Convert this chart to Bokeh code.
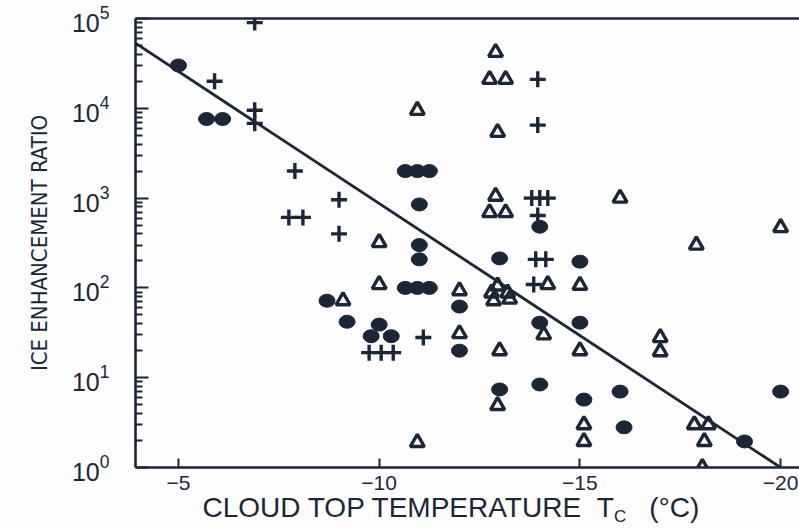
from bokeh.plotting import figure
from bokeh.models import Range1d, LinearAxis, FixedTicker
from bokeh.embed import file_html
from bokeh.resources import INLINE

# Ice enhancement ratio versus cloud top temperature (deg C)
# Filled circles
circle_T = [-5.0, -5.7, -6.1, -8.7, -9.2, -9.8, -10.3, -10.0,
            -10.65, -10.95, -11.25, -11.0, -11.0, -11.0,
            -10.65, -10.95, -11.25, -12.0, -12.0, -13.0, -13.0,
            -14.0, -14.0, -14.0, -15.0, -15.0, -15.1, -16.0, -16.1,
            -19.1, -20.0]
circle_R = [3.0e4, 7.6e3, 7.6e3, 72, 42, 29, 29, 39,
            2000, 2000, 2000, 850, 300, 208,
            100, 100, 100, 62, 20, 213, 7.4,
            480, 41, 8.4, 196, 41, 5.7, 7.0, 2.8,
            1.95, 7.0]

# Open triangles
tri_T = [-9.1, -10.0, -10.0, -10.95, -10.95, -12.0, -12.0,
         -12.9, -12.75, -13.15, -12.95, -12.9, -12.75, -13.15,
         -12.95, -12.8, -13.2, -12.85, -13.25, -13.0, -12.95,
         -14.2, -14.1, -15.0, -15.0, -15.1, -15.1, -16.0,
         -17.0, -17.0, -17.9, -17.85, -18.2, -18.1, -18.05, -20.0]
tri_R = [72, 320, 109, 9.5e3, 1.9, 93, 31,
         4.2e4, 2.1e4, 2.1e4, 5.4e3, 1050, 690, 690,
         105, 88, 88, 72, 75, 20, 4.9,
         109, 30, 107, 20, 3.0, 1.95, 1000,
         28, 19.5, 300, 3.0, 3.0, 1.95, 1.0, 470]

# Crosses
plus_T = [-6.9, -5.9, -6.9, -6.9, -7.9, -9.0, -7.75, -8.1, -9.0,
          -13.95, -13.95, -13.8, -14.0, -14.2, -13.95, -13.9, -14.15,
          -13.85, -11.1, -9.75, -10.05, -10.35]
plus_R = [9.0e4, 2.0e4, 9.5e3, 6.8e3, 2000, 960, 610, 610, 400,
          2.1e4, 6.5e3, 1000, 1000, 1000, 640, 208, 208,
          109, 28, 19, 19, 19]

# Regression line end points
fit_T = [-3.93, -20.0]
fit_R = [5.3e4, 1.0]

x_ticks = [-5, -10, -15, -20]
y_ticks = [1, 10, 100, 1000, 1e4, 1e5]
y_minor = [m * 10 ** e for e in range(5) for m in range(2, 10)]

INK = "#1d2636"
BG = "#fdfdfd"
FONT = "Liberation Sans, Arial, sans-serif"
NARROW = "Liberation Sans Narrow, DejaVu Sans Condensed, Liberation Sans, sans-serif"

p = figure(width=799, height=528, y_axis_type="log",
           x_range=Range1d(-3.93, -20.47), y_range=Range1d(1, 1e5),
           output_backend="svg", toolbar_location=None,
           min_border_left=135, min_border_right=0,
           min_border_top=18, min_border_bottom=61,
           background_fill_color=BG, border_fill_color=BG,
           outline_line_color=None)
p.grid.visible = False

p.xaxis.ticker = FixedTicker(ticks=x_ticks)
p.yaxis.ticker = FixedTicker(ticks=y_ticks, minor_ticks=y_minor)

for ax in (p.xaxis[0], p.yaxis[0]):
    ax.axis_line_color = INK
    ax.axis_line_width = 2.6
    ax.major_tick_line_color = INK
    ax.major_tick_line_width = 2
    ax.major_tick_out = 0
    ax.minor_tick_out = 0
    ax.major_label_text_color = INK
    ax.major_label_text_font = FONT

p.xaxis.major_tick_in = 9
p.xaxis.minor_tick_line_color = None
p.xaxis.major_label_text_font_size = "21px"
p.xaxis.major_label_standoff = 8

p.yaxis.major_tick_in = 13
p.yaxis.minor_tick_in = 7
p.yaxis.minor_tick_line_color = INK
p.yaxis.minor_tick_line_width = 2
p.yaxis.major_label_text_font_size = "25px"
p.yaxis.major_label_standoff = 26
p.yaxis.axis_label = "ICE ENHANCEMENT RATIO"
p.yaxis.axis_label_text_font = NARROW
p.yaxis.axis_label_text_font_style = "normal"
p.yaxis.axis_label_text_font_size = "22px"
p.yaxis.axis_label_text_color = INK
p.yaxis.axis_label_standoff = 17


def text_row(ticks, texts, size, standoff):
    """An undecorated axis that only carries text at the given x positions."""
    return LinearAxis(ticker=FixedTicker(ticks=ticks),
                      major_label_overrides=dict(zip(ticks, texts)),
                      axis_line_color=None, major_tick_line_color=None,
                      minor_tick_line_color=None,
                      major_tick_out=0, minor_tick_out=0,
                      major_tick_in=0, minor_tick_in=0,
                      major_label_standoff=standoff,
                      major_label_text_font=FONT,
                      major_label_text_font_size=size,
                      major_label_text_color=INK)


# plain line along the top edge of the frame
top = LinearAxis(ticker=FixedTicker(ticks=[]), axis_line_color=INK,
                 axis_line_width=2.6, major_label_text_font_size="0px",
                 major_tick_out=0, minor_tick_out=0,
                 major_tick_line_color=None, minor_tick_line_color=None)
p.add_layout(top, "above")

# x-axis title "CLOUD TOP TEMPERATURE  T_C (°C)"
title_at = [-10.74, -17.35]
title_text = ["CLOUD TOP TEMPERATURE\u00a0\u00a0T", "(°C)"]
p.add_layout(text_row(title_at, title_text, "28px", -1), "below")

# subscript "C" of T_C, smaller and lowered
sub_at = [-16.0]
p.add_layout(text_row(sub_at, ["C"], "17px", -19), "below")

p.line(fit_T, fit_R, line_color=INK, line_width=2.8)
p.ellipse(circle_T, circle_R, width=16, height=13, width_units="screen",
          height_units="screen", fill_color=INK, line_color=INK)
p.scatter(tri_T, tri_R, marker="triangle", size=14, line_width=3.4,
          line_color=INK, fill_color=None)
p.scatter(plus_T, plus_R, marker="cross", size=16, line_width=3.4,
          line_color=INK)

open("out.html", "w").write(file_html(p, INLINE))
